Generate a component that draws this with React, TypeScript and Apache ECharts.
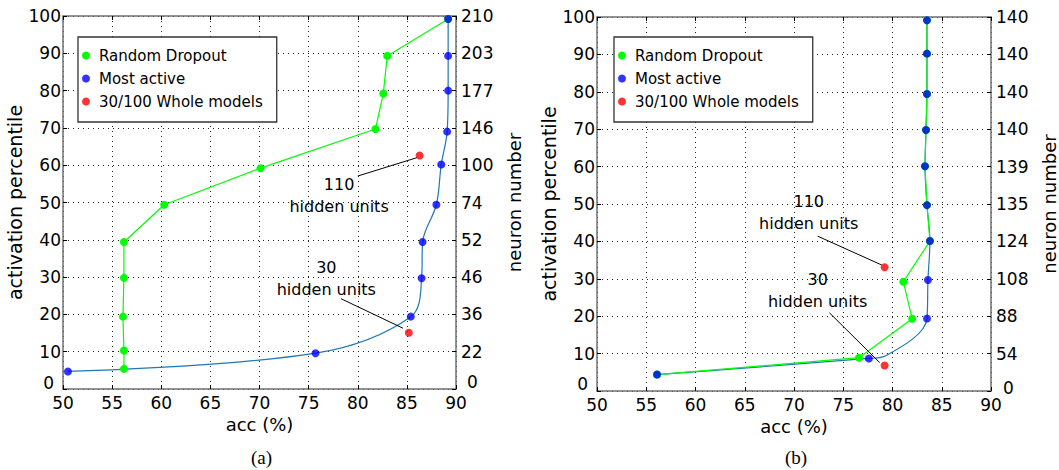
import React, { useEffect, useRef } from "react";
import * as echarts from "echarts";

// ---------- data ----------
const seriesNames = ["Random Dropout", "Most active", "30/100 Whole models"];

const aNeuronLabels = ["0", "22", "36", "46", "52", "74", "100", "146", "177", "203", "210"];
const bNeuronLabels = ["0", "54", "88", "108", "124", "135", "139", "140", "140", "140", "140"];

// panel (a)
const aDropoutAcc = [89.2, 83.0, 82.6, 81.8, 70.1, 60.3, 56.2, 56.2, 56.1, 56.2, 56.2];
const aDropoutPct = [99.2, 89.3, 79.2, 69.7, 59.2, 49.4, 39.4, 29.8, 19.4, 10.3, 5.4];
const aActiveAcc = [89.2, 89.2, 89.2, 89.1, 88.5, 88.0, 86.6, 86.5, 85.4, 75.7, 50.5];
const aActivePct = [99.2, 89.3, 80.0, 69.0, 60.2, 49.4, 39.4, 29.7, 19.4, 9.6, 4.7];
const aWholeAcc = [86.3, 85.2];
const aWholePct = [62.6, 15.1];

// panel (b)
const bDropoutAcc = [83.5, 83.5, 83.5, 83.4, 83.3, 83.5, 83.8, 81.1, 82.0, 76.6, 56.1];
const bDropoutPct = [99.1, 90.2, 79.4, 69.8, 60.1, 49.7, 40.1, 29.2, 19.3, 8.9, 4.4];
const bActiveAcc = [83.5, 83.5, 83.5, 83.4, 83.3, 83.5, 83.8, 83.6, 83.5, 77.6, 56.1];
const bActivePct = [99.1, 90.2, 79.4, 69.8, 60.1, 49.7, 40.1, 29.7, 19.4, 8.7, 4.4];
const bActiveCurveAcc = [83.5, 83.5, 83.5, 83.4, 83.3, 83.5, 83.8, 83.6, 83.5, 79.3, 77.6, 56.1];
const bActiveCurvePct = [99.1, 90.2, 79.4, 69.8, 60.1, 49.7, 40.1, 29.7, 19.4, 9.4, 8.7, 4.4];
const bWholeAcc = [79.2, 79.2];
const bWholePct = [33.1, 6.8];

// annotations (data coordinates): text block centre, leader line from -> to
const annotations = [
  { panel: 0, text: "110\nhidden units", at: [78.1, 52.0], from: [80.0, 57.1], to: [86.0, 62.0] },
  { panel: 0, text: "30\nhidden units", at: [76.8, 29.6], from: [78.3, 24.2], to: [84.6, 16.3] },
  { panel: 1, text: "110\nhidden units", at: [71.5, 47.6], from: [72.4, 41.4], to: [78.9, 33.7] },
  { panel: 1, text: "30\nhidden units", at: [72.4, 26.8], from: [73.6, 20.9], to: [78.7, 7.6] },
];
const captions = ["(a)", "(b)"];

// ---------- styling ----------
const FONT = "DejaVu Sans";
const FRAME = "#707070";
const GREEN = "#00ff00";
const BLUE = "#0000ff";
const CURVE = "#1f77b4";
const RED = "#ff0000";

const zip = (xs: number[], ys: number[]) => xs.map((x, i) => [x, ys[i]]);

const grids = [
  { left: 63, top: 16, width: 393, height: 373 },
  { left: 597, top: 17, width: 394, height: 374 },
];

const bottomX = (gridIndex: number) => ({
  type: "value",
  gridIndex,
  min: 50,
  max: 90,
  interval: 5,
  position: "bottom",
  name: "acc (%)",
  nameLocation: "middle",
  nameGap: 25,
  nameTextStyle: { fontSize: 18, color: "#000", fontFamily: FONT },
  axisLine: { show: true, onZero: false, lineStyle: { color: FRAME, width: 1.5 } },
  axisTick: { show: true, inside: true, length: 4, lineStyle: { color: "#000" } },
  axisLabel: { fontSize: 17, color: "#000", margin: 5, fontFamily: FONT },
  splitLine: { show: true, lineStyle: { color: "#222", type: [1, 4], width: 1 } },
});

const topX = (gridIndex: number) => ({
  type: "value",
  gridIndex,
  min: 50,
  max: 90,
  interval: 5,
  position: "top",
  axisLine: { show: true, onZero: false, lineStyle: { color: FRAME, width: 1.5 } },
  axisTick: { show: true, inside: true, length: 4, lineStyle: { color: "#000" } },
  axisLabel: { show: false },
  splitLine: { show: false },
});

const leftY = (gridIndex: number, zeroPad: number[]) => ({
  type: "value",
  gridIndex,
  min: 0,
  max: 100,
  interval: 10,
  position: "left",
  name: "activation percentile",
  nameLocation: "middle",
  nameGap: 35,
  nameRotate: 90,
  nameTextStyle: { fontSize: 19, color: "#000", fontFamily: FONT },
  axisLine: { show: true, onZero: false, lineStyle: { color: FRAME, width: 1.5 } },
  axisTick: { show: true, inside: true, length: 4, lineStyle: { color: "#000" } },
  axisLabel: {
    fontSize: 17,
    color: "#000",
    margin: 2,
    fontFamily: FONT,
    formatter: (v: number) => (v === 0 ? "{z|0}" : String(v)),
    rich: { z: { fontSize: 17, color: "#000", fontFamily: FONT, padding: zeroPad } },
  },
  splitLine: { show: true, lineStyle: { color: "#222", type: [1, 4], width: 1 } },
});

const rightY = (gridIndex: number, labels: string[], zeroPad: number[]) => ({
  type: "value",
  gridIndex,
  min: 0,
  max: 100,
  interval: 10,
  position: "right",
  name: "neuron number",
  nameLocation: "middle",
  nameGap: 49,
  nameRotate: 90,
  nameTextStyle: { fontSize: 18, color: "#000", fontFamily: FONT },
  axisLine: { show: true, onZero: false, lineStyle: { color: FRAME, width: 1.5 } },
  axisTick: { show: true, inside: true, length: 4, lineStyle: { color: "#000" } },
  axisLabel: {
    fontSize: 17,
    color: "#000",
    margin: 5,
    fontFamily: FONT,
    formatter: (v: number) => {
      const s = labels[Math.round(v / 10)] ?? "";
      return v === 0 ? "{z|" + s + "}" : s;
    },
    rich: { z: { fontSize: 17, color: "#000", fontFamily: FONT, padding: zeroPad } },
  },
  splitLine: { show: false },
});

const panelSeries = (
  xIdx: number,
  yIdx: number,
  dropout: number[][],
  curve: number[][],
  active: number[][],
  whole: number[][]
) => [
  {
    name: "Most active line",
    type: "line",
    xAxisIndex: xIdx,
    yAxisIndex: yIdx,
    data: curve,
    smooth: 0.35,
    showSymbol: false,
    symbol: "none",
    lineStyle: { color: CURVE, width: 1.2 },
    itemStyle: { color: CURVE },
    silent: true,
    z: 2,
  },
  {
    name: seriesNames[0],
    type: "line",
    xAxisIndex: xIdx,
    yAxisIndex: yIdx,
    data: dropout,
    symbol: "circle",
    symbolSize: 8,
    lineStyle: { color: GREEN, width: 1.2 },
    itemStyle: { color: GREEN },
    silent: true,
    z: 3,
  },
  {
    name: seriesNames[1],
    type: "scatter",
    xAxisIndex: xIdx,
    yAxisIndex: yIdx,
    data: active,
    symbol: "circle",
    symbolSize: 8,
    itemStyle: { color: BLUE },
    silent: true,
    z: 4,
  },
  {
    name: seriesNames[2],
    type: "scatter",
    xAxisIndex: xIdx,
    yAxisIndex: yIdx,
    data: whole,
    symbol: "circle",
    symbolSize: 8,
    itemStyle: { color: RED },
    silent: true,
    z: 4,
  },
];

const legendAt = (left: number) => ({
  left,
  top: 37,
  orient: "vertical",
  icon: "circle",
  itemWidth: 16,
  itemHeight: 8,
  itemGap: 8,
  padding: [11, 14, 13, 4],
  borderColor: "#333",
  borderWidth: 1.3,
  backgroundColor: "#fff",
  selectedMode: false,
  textStyle: { fontSize: 15, color: "#000", fontFamily: FONT },
  data: seriesNames,
  z: 10,
});

export default function App() {
  const ref = useRef<HTMLDivElement>(null);

  useEffect(() => {
    if (!ref.current) return;
    const chart = echarts.init(ref.current, undefined, { renderer: "svg" });
    const seriesA = panelSeries(0, 0, zip(aDropoutAcc, aDropoutPct), zip(aActiveAcc, aActivePct), zip(aActiveAcc, aActivePct), zip(aWholeAcc, aWholePct));
    const seriesB = panelSeries(2, 2, zip(bDropoutAcc, bDropoutPct), zip(bActiveCurveAcc, bActiveCurvePct), zip(bActiveAcc, bActivePct), zip(bWholeAcc, bWholePct));
    chart.setOption({
      animation: false,
      backgroundColor: "#fff",
      textStyle: { fontFamily: FONT },
      grid: grids,
      xAxis: [bottomX(0), topX(0), bottomX(1), topX(1)],
      yAxis: [
        leftY(0, [0, 7, 12, 0]),
        rightY(0, aNeuronLabels, [0, 0, 15, 6]),
        leftY(1, [0, 7, 15, 0]),
        rightY(1, bNeuronLabels, [0, 0, 6, 7]),
      ],
      legend: [legendAt(78), legendAt(614)],
      series: [...seriesA, ...seriesB],
    });

    const panelSeriesIndex = [0, 4];
    const toPx = (panel: number, p: number[]) =>
      chart.convertToPixel({ seriesIndex: panelSeriesIndex[panel] }, p) as number[];

    const graphics: any[] = [];
    annotations.forEach((a) => {
      const c = toPx(a.panel, a.at);
      const f = toPx(a.panel, a.from);
      const t = toPx(a.panel, a.to);
      graphics.push({
        type: "line",
        shape: { x1: f[0], y1: f[1], x2: t[0], y2: t[1] },
        style: { stroke: "#000", lineWidth: 1 },
        z: 20,
        silent: true,
      });
      graphics.push({
        type: "text",
        x: c[0],
        y: c[1],
        style: {
          text: a.text,
          fill: "#000",
          fontSize: 16,
          fontFamily: FONT,
          align: "center",
          verticalAlign: "middle",
          lineHeight: 22,
        },
        z: 20,
        silent: true,
      });
    });
    captions.forEach((cap, i) => {
      const g = grids[i];
      graphics.push({
        type: "text",
        x: g.left + g.width / 2 + 2,
        y: 457,
        style: {
          text: cap,
          fill: "#000",
          fontSize: 19,
          fontFamily: "Liberation Serif",
          align: "center",
          verticalAlign: "middle",
        },
        silent: true,
      });
    });
    chart.setOption({ graphic: graphics });

    return () => chart.dispose();
  }, []);

  return (
    <div
      ref={ref}
      style={{ position: "absolute", left: 0, top: 0, width: 1059, height: 470, background: "#fff" }}
    />
  );
}
